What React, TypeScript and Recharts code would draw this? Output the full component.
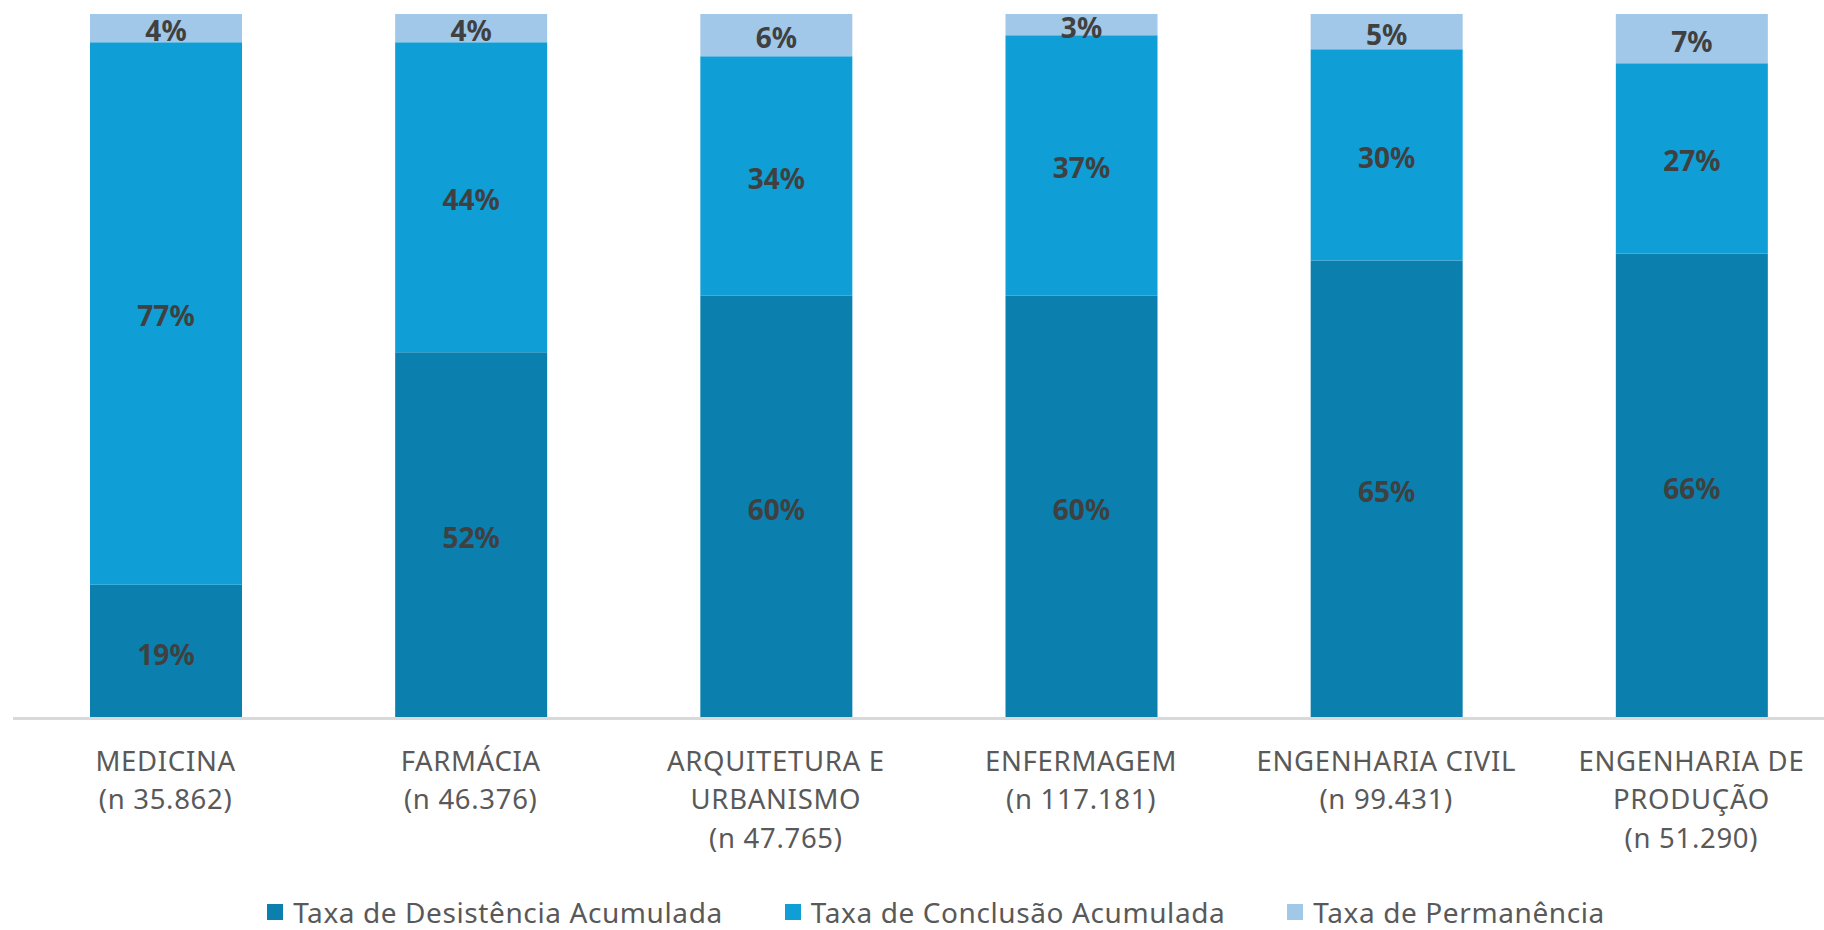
import { Bar, BarChart, LabelList, Legend, XAxis, YAxis } from "recharts";

const courseLines = [
  ["MEDICINA"],
  ["FARMÁCIA"],
  ["ARQUITETURA E", "URBANISMO"],
  ["ENFERMAGEM"],
  ["ENGENHARIA CIVIL"],
  ["ENGENHARIA DE", "PRODUÇÃO"],
];
const sampleSizes = ["n 35.862", "n 46.376", "n 47.765", "n 117.181", "n 99.431", "n 51.290"];

const desistencia = [19, 52, 60, 60, 65, 66];
const conclusao = [77, 44, 34, 37, 30, 27];
const permanencia = [4, 4, 6, 3, 5, 7];

const seriesOrder = ["desistencia", "conclusao", "permanencia"];

const data = courseLines.map((lines, i) => ({
  course: lines.join(" "),
  desistencia: desistencia[i],
  conclusao: conclusao[i],
  permanencia: permanencia[i],
}));

const FONT = "'Noto Sans', sans-serif";
const TEXT_GRAY = "#595959";

function CourseTick(props: any) {
  const { x, y, index } = props;
  const lines = [...courseLines[index], `(${sampleSizes[index]})`];
  return (
    <text
      x={x}
      y={y}
      textAnchor="middle"
      fill={TEXT_GRAY}
      fontFamily={FONT}
      fontSize={27.5}
      letterSpacing={0.7}
    >
      {lines.map((line, i) => (
        <tspan key={i} x={x} dy={i === 0 ? 52 : 38.5}>
          {line}
        </tspan>
      ))}
    </text>
  );
}

function LegendRow(props: any) {
  const items = [...(props.payload || [])].sort(
    (a: any, b: any) => seriesOrder.indexOf(a.dataKey) - seriesOrder.indexOf(b.dataKey)
  );
  return (
    <div
      style={{
        display: "flex",
        justifyContent: "center",
        alignItems: "center",
        gap: 62,
        paddingLeft: 48,
        paddingTop: 15,
        fontFamily: FONT,
        fontSize: 28,
        letterSpacing: 0.6,
        lineHeight: "34px",
        color: TEXT_GRAY,
      }}
    >
      {items.map((item: any) => (
        <div key={item.value} style={{ display: "flex", alignItems: "center", gap: 10 }}>
          <span style={{ width: 16, height: 16, background: item.color, display: "inline-block" }} />
          <span>{item.value}</span>
        </div>
      ))}
    </div>
  );
}

const labelStyle = {
  fill: "#404040",
  fontFamily: FONT,
  fontSize: 28,
  fontWeight: 700,
};

export default function App() {
  return (
    <div
      style={{
        position: "absolute",
        left: 0,
        top: 0,
        width: 1824,
        height: 930,
        overflow: "hidden",
        background: "#fff",
      }}
    >
      <BarChart
        width={1850}
        height={930}
        data={data}
        margin={{ top: 14, right: 6, left: 13, bottom: 0 }}
      >
        <XAxis
          dataKey="course"
          height={161.5}
          tickLine={false}
          tickSize={0}
          tickMargin={0}
          axisLine={{ stroke: "#d9d9d9", strokeWidth: 3 }}
          tick={<CourseTick />}
          interval={0}
        />
        <YAxis hide domain={[0, 100]} />
        <Legend
          verticalAlign="bottom"
          content={<LegendRow />}
          wrapperStyle={{ height: 50, left: 0, width: 1824 }}
        />
        <Bar
          dataKey="desistencia"
          name="Taxa de Desistência Acumulada"
          stackId="a"
          fill="#0B7FAE"
          barSize={152}
          isAnimationActive={false}
        >
          <LabelList dataKey="desistencia" position="center" dy={3} formatter={(v: any) => `${v}%`} style={labelStyle} />
        </Bar>
        <Bar
          dataKey="conclusao"
          name="Taxa de Conclusão Acumulada"
          stackId="a"
          fill="#0F9ED5"
          barSize={152}
          isAnimationActive={false}
        >
          <LabelList dataKey="conclusao" position="center" dy={3} formatter={(v: any) => `${v}%`} style={labelStyle} />
        </Bar>
        <Bar
          dataKey="permanencia"
          name="Taxa de Permanência"
          stackId="a"
          fill="#A1C8E8"
          barSize={152}
          isAnimationActive={false}
        >
          <LabelList dataKey="permanencia" position="center" dy={3} formatter={(v: any) => `${v}%`} style={labelStyle} />
        </Bar>
      </BarChart>
    </div>
  );
}
